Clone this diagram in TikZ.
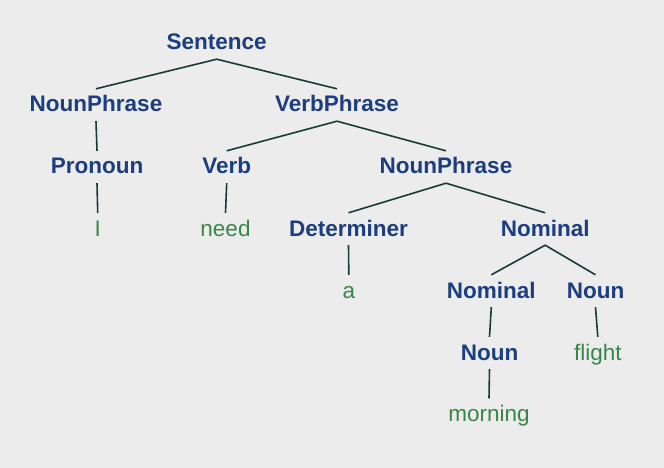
\documentclass[tikz,border=0pt]{standalone}
\usepackage{fontspec}
\setmainfont{Liberation Sans}
\definecolor{bgc}{RGB}{236,236,236}
\definecolor{catc}{RGB}{28,62,128}
\definecolor{wordc}{RGB}{58,134,72}
\definecolor{edgec}{RGB}{24,60,56}
\tikzset{
  tn/.style={anchor=base, inner sep=0pt, text height=23pt, text depth=9pt,
    font=\fontsize{22.5}{27}\selectfont},
  cat/.style={tn, text=catc, font=\fontsize{22.5}{27}\selectfont\bfseries},
  word/.style={tn, text=wordc},
  edge/.style={draw=edgec, line width=1.6pt}
}
\begin{document}
\begin{tikzpicture}[x=1pt,y=-1pt]
\fill[bgc] (0,0) rectangle (664,468);
\useasboundingbox (0,0) rectangle (664,468);
\node[cat] (s) at (216.7,50) {Sentence};
\node[cat] (np1) at (96,112) {NounPhrase};
\node[cat] (vp) at (337,112) {VerbPhrase};
\node[cat] (pro) at (97,174) {Pronoun};
\node[cat] (v) at (226.7,174) {Verb};
\node[cat] (np2) at (446,174) {NounPhrase};
\node[word] (i) at (97.7,236) {I};
\node[word] (need) at (225.5,236) {need};
\node[cat] (det) at (348.5,236) {Determiner};
\node[cat] (nom1) at (545.2,236) {Nominal};
\node[word] (a) at (348.8,298) {a};
\node[cat] (nom2) at (491.3,298) {Nominal};
\node[cat] (n1) at (595.5,298) {Noun};
\node[cat] (n2) at (489.5,360) {Noun};
\node[word] (flight) at (597.8,360) {flight};
\node[word] (morning) at (489,421.5) {morning};
\draw[edge] (np1.north) -- (s.south) -- (vp.north);
\draw[edge] (np1.south) -- (pro.north);
\draw[edge] (pro.south) -- (i.north);
\draw[edge] (v.north) -- (vp.south) -- (np2.north);
\draw[edge] (v.south) -- (need.north);
\draw[edge] (det.north) -- (np2.south) -- (nom1.north);
\draw[edge] (det.south) -- (a.north);
\draw[edge] (nom2.north) -- (nom1.south) -- (n1.north);
\draw[edge] (nom2.south) -- (n2.north);
\draw[edge] (n1.south) -- (flight.north);
\draw[edge] (n2.south) -- (morning.north);
\end{tikzpicture}
\end{document}
